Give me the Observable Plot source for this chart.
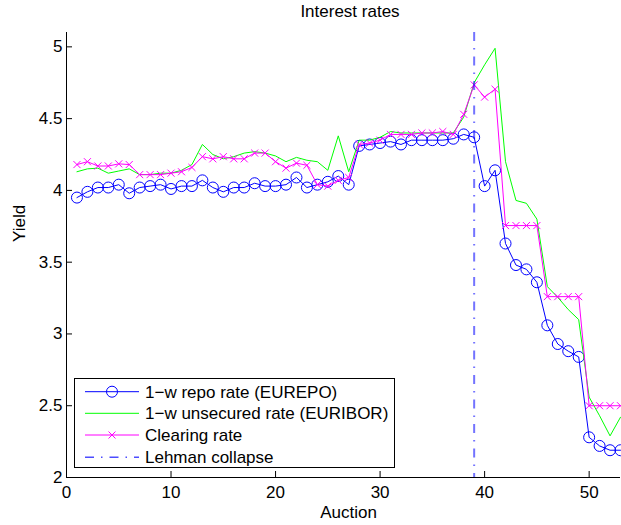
<!DOCTYPE html>
<html><head><meta charset="utf-8">
<script src="https://cdn.jsdelivr.net/npm/d3@7"></script>
<script src="https://cdn.jsdelivr.net/npm/@observablehq/plot@0.6"></script>
<style>
body{margin:0;background:#fff;font-family:"Liberation Sans",Arial,sans-serif;}
#wrap{position:relative;width:621px;height:525px;overflow:hidden;background:#fff;}
#title{position:absolute;top:0;left:350px;transform:translateX(-50%);height:24px;line-height:24px;font-size:17px;white-space:nowrap;color:#000;}
#chart{position:absolute;top:24px;left:0;}
#legend{position:absolute;left:74px;top:378px;}
</style></head><body>
<div id="wrap"><div id="title">Interest rates</div><div id="chart"></div><div id="legend"></div></div>
<script>
const auction = [1,2,3,4,5,6,7,8,9,10,11,12,13,14,15,16,17,18,19,20,21,22,23,24,25,26,27,28,29,30,31,32,33,34,35,36,37,38,39,40,41,42,43,44,45,46,47,48,49,50,51,52,53];
const eurepo = [3.95,3.99,4.02,4.02,4.04,3.98,4.02,4.03,4.04,4.01,
                4.03,4.03,4.07,4.02,3.99,4.02,4.02,4.05,4.03,4.03,
                4.04,4.09,4.02,4.04,4.06,4.10,4.04,4.31,4.32,4.33,
                4.34,4.32,4.35,4.35,4.35,4.35,4.36,4.39,4.37,4.03,
                4.14,3.63,3.48,3.45,3.36,3.06,2.93,2.88,2.84,2.28,
                2.22,2.19,2.19];
const euribor = [4.13,4.15,4.155,4.12,4.135,4.15,4.11,4.11,4.12,4.12,
                 4.14,4.18,4.32,4.25,4.22,4.235,4.26,4.27,4.26,4.24,
                 4.20,4.23,4.21,4.20,4.14,4.38,4.13,4.35,4.35,4.37,
                 4.41,4.40,4.40,4.40,4.40,4.40,4.40,4.51,4.75,4.875,
                 4.99,4.20,3.93,3.91,3.80,3.33,3.255,3.17,3.10,2.56,
                 2.43,2.29,2.42];
const clearing = [4.18,4.20,4.17,4.17,4.185,4.18,4.11,4.11,4.11,4.12,
                  4.13,4.16,4.235,4.22,4.235,4.22,4.22,4.26,4.26,4.20,
                  4.155,4.19,4.175,4.04,4.03,4.07,4.09,4.32,4.33,4.35,
                  4.39,4.39,4.39,4.40,4.40,4.41,4.39,4.53,4.735,4.65,
                  4.705,3.755,3.755,3.755,3.755,3.26,3.26,3.26,3.26,2.50,
                  2.50,2.50,2.50];
const lehman = [39];
const seriesNames = ["1\u2212w repo rate (EUREPO)", "1\u2212w unsecured rate (EURIBOR)", "Clearing rate", "Lehman collapse"];
const seriesColors = ["#0000ff", "#00ff00", "#ff00ff", "#0000ff"];
const xTicks = [0,10,20,30,40,50];
const yTicks = [2,2.5,3,3.5,4,4.5,5];
const titleText = "Interest rates";
const xLabel = "Auction";
const yLabel = "Yield";

const rows = auction.map((a, i) => ({a, repo: eurepo[i], ibor: euribor[i], clr: clearing[i]}));
const FONT = '"Liberation Sans", Arial, sans-serif';

const chart = Plot.plot({
  width: 621, height: 501,
  marginTop: 8, marginLeft: 66, marginRight: 1, marginBottom: 48,
  style: {fontFamily: FONT, fontSize: "17px", color: "#000", background: "#fff", overflow: "visible"},
  x: {domain: [0, 53]},
  y: {domain: [2, 5.1]},
  marks: [
    Plot.axisX({ticks: xTicks, tickSize: -6, tickPadding: 14, label: null, fontSize: 17, tickFormat: d => String(d)}),
    Plot.axisY({ticks: yTicks, tickSize: -6, tickPadding: 10, label: null, fontSize: 17, tickFormat: d => String(d)}),
    Plot.ruleX([0]),
    Plot.ruleY([2]),
    Plot.lineY(rows, {x: "a", y: "repo", stroke: seriesColors[0], strokeWidth: 1}),
    Plot.dot(rows, {x: "a", y: "repo", r: 5.5, stroke: seriesColors[0], fill: "none", strokeWidth: 1}),
    Plot.lineY(rows, {x: "a", y: "ibor", stroke: seriesColors[1], strokeWidth: 1}),
    Plot.lineY(rows, {x: "a", y: "clr", stroke: seriesColors[2], strokeWidth: 1}),
    Plot.dot(rows, {x: "a", y: "clr", symbol: "times", r: 3.3, stroke: seriesColors[2], strokeWidth: 1}),
    Plot.ruleX(lehman, {stroke: seriesColors[3], strokeWidth: 2, strokeOpacity: 0.55, strokeDasharray: "9,7,1.5,7"}),
    Plot.text([xLabel], {text: d => d, frameAnchor: "bottom", dy: 40, dx: 5, fontSize: 17}),
    Plot.text([yLabel], {text: d => d, frameAnchor: "left", dx: -47, dy: -13, rotate: -90, fontSize: 17})
  ]
});
document.getElementById("chart").appendChild(chart);
document.getElementById("title").textContent = titleText;

// legend
const lg = d3.select("#legend").append("svg").attr("width", 322).attr("height", 91)
  .style("font-family", FONT).style("font-size", "17px");
lg.append("rect").attr("x", 0.5).attr("y", 0.5).attr("width", 320).attr("height", 89)
  .attr("fill", "#fff").attr("stroke", "#000").attr("stroke-width", 1);
const rowY = [13.7, 35.3, 57, 79.3];
seriesNames.forEach((name, i) => {
  const y = rowY[i];
  const ln = lg.append("line").attr("x1", 11).attr("x2", 65).attr("y1", y).attr("y2", y)
    .attr("stroke", seriesColors[i]).attr("stroke-width", 1);
  if (i === 3) ln.attr("stroke-dasharray", "9,7,1.5,7").attr("stroke-width", 1.5).attr("stroke-opacity", 0.7);
  if (i === 0) lg.append("circle").attr("cx", 38).attr("cy", y).attr("r", 5.5).attr("fill", "none").attr("stroke", seriesColors[0]);
  if (i === 2) lg.append("path").attr("d", `M${38-3.5},${y-3.5}L${38+3.5},${y+3.5}M${38-3.5},${y+3.5}L${38+3.5},${y-3.5}`).attr("stroke", seriesColors[2]).attr("fill", "none");
  lg.append("text").attr("x", 71).attr("y", y).attr("dy", "0.35em").attr("fill", "#000").text(name);
});
</script>
</body></html>
